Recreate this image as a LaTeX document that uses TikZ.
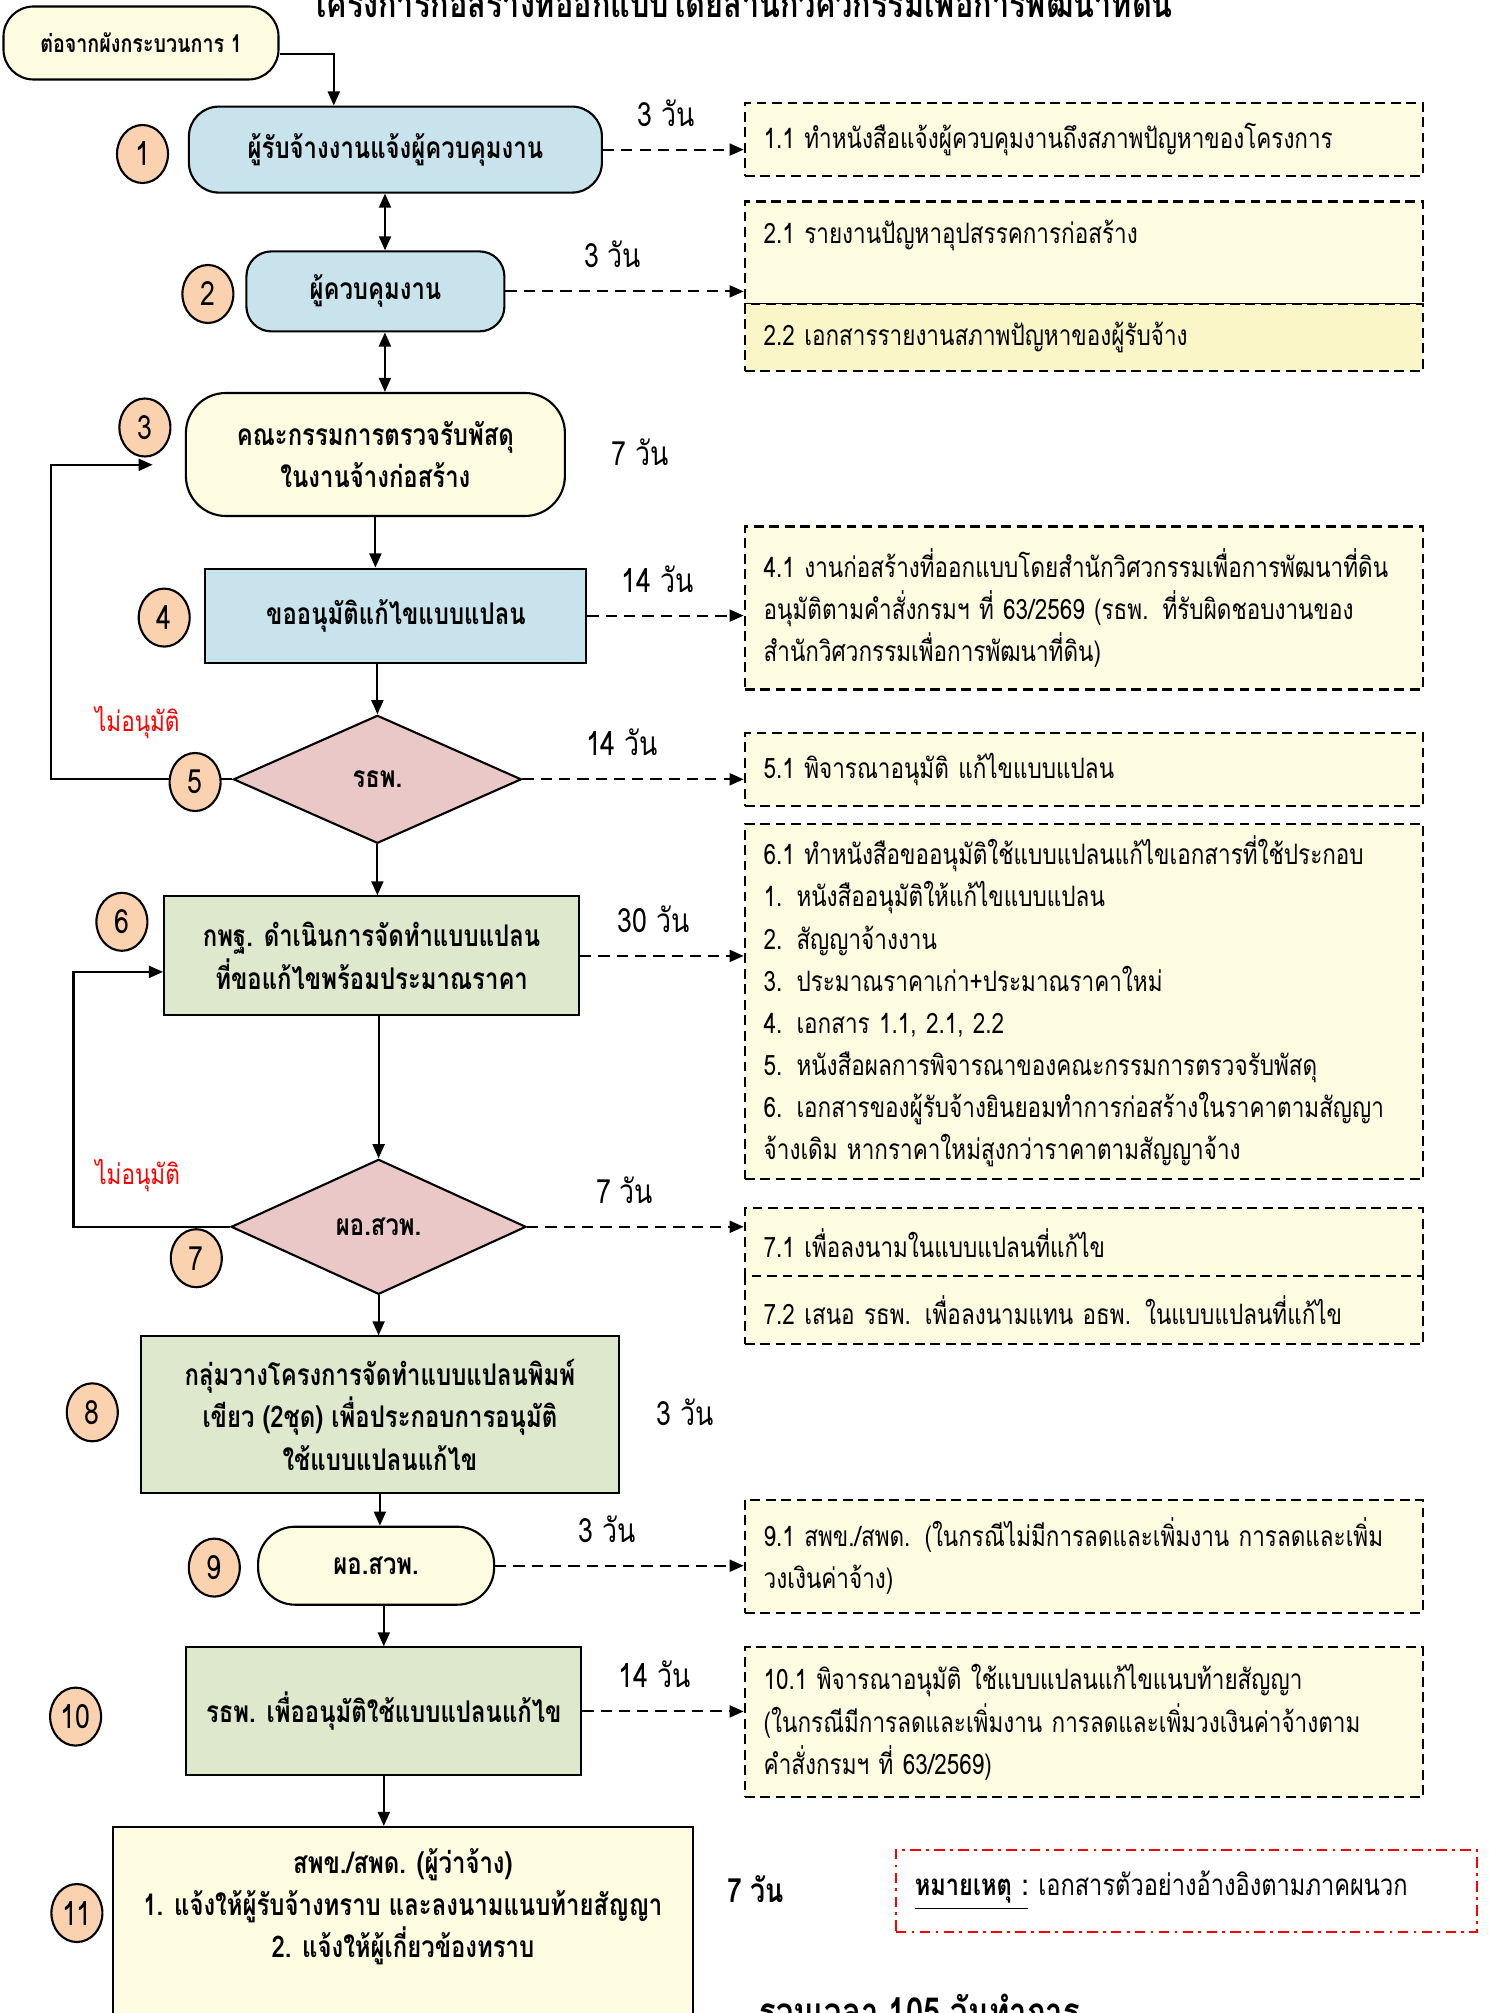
\documentclass[tikz,border=0pt]{standalone}
\usepackage{fontspec}
\setmainfont[Script=Thai, FakeStretch=0.8]{Loma}
\usetikzlibrary{shapes.geometric, arrows.meta, calc}

\definecolor{bluefill}{RGB}{200,227,236}
\definecolor{creamfill}{RGB}{253,251,224}
\definecolor{greenfill}{RGB}{221,232,204}
\definecolor{pinkfill}{RGB}{234,200,200}
\definecolor{peachfill}{RGB}{250,210,175}
\definecolor{yellowfill}{RGB}{250,246,200}

\newcommand{\txtsize}{\fontsize{8pt}{12pt}\selectfont}
\newcommand{\nodesize}{\fontsize{8.5pt}{12pt}\selectfont}
\newcommand{\smalltxt}{\fontsize{7pt}{9pt}\selectfont}
\newcommand{\daysize}{\fontsize{9.5pt}{11pt}\selectfont}
\newcommand{\titlesize}{\fontsize{10.9pt}{12pt}\selectfont}
\newcommand{\totalsize}{\fontsize{11pt}{13pt}\selectfont}

\tikzstyle{roundstep} = [rectangle, rounded corners=0.3cm, draw=black, semithick, text centered, align=center, font=\nodesize\bfseries]
\tikzstyle{process} = [rectangle, draw=black, semithick, text centered, align=center, font=\nodesize\bfseries]
\tikzstyle{decision} = [diamond, shape aspect=2.2, inner sep=0pt, draw=black, semithick, fill=pinkfill, text centered, font=\nodesize\bfseries]
\tikzstyle{badge} = [ellipse, minimum width=0.51cm, minimum height=0.58cm, inner sep=0pt, draw=black, semithick, fill=peachfill, font=\daysize]
\tikzstyle{detail} = [rectangle, draw=black, semithick, dash pattern=on 2.8pt off 1.6pt, fill=creamfill, text width=6.4cm, inner xsep=0.19cm, align=left, font=\txtsize]
\tikzstyle{notebox} = [rectangle, draw=red, semithick, dash pattern=on 3pt off 1.5pt on 0.8pt off 1.5pt, fill=white, text width=5.43cm, inner xsep=0.19cm, minimum height=0.82cm, align=left, font=\fontsize{8.4pt}{12pt}\selectfont]
\tikzstyle{days} = [font=\daysize]
\tikzstyle{arrow} = [semithick, -{Triangle[length=4pt,width=3.4pt]}]
\tikzstyle{dblarrow} = [semithick, {Triangle[length=4pt,width=3.4pt]}-{Triangle[length=4pt,width=3.4pt]}]
\tikzstyle{dasharrow} = [arrow, dash pattern=on 3.2pt off 2pt]

\begin{document}
\begin{tikzpicture}[node distance=1.6cm]
    \useasboundingbox (0,0) rectangle (14.88,-20.13);
    \clip (0,0) rectangle (14.88,-20.13);

    \node (title) [anchor=base, font=\titlesize\bfseries] at (7.415,-0.18) {โครงการก่อสร้างที่ออกแบบโดยสำนักวิศวกรรมเพื่อการพัฒนาที่ดิน};

    \node (start) [roundstep, fill=creamfill, minimum width=2.75cm, minimum height=0.73cm, font=\smalltxt\bfseries] at (1.41,-0.43) {ต่อจากผังกระบวนการ 1};
    \node (n1) [roundstep, fill=bluefill, minimum width=4.13cm, minimum height=0.86cm, below of=start, xshift=2.544cm, yshift=0.534cm] {ผู้รับจ้างงานแจ้งผู้ควบคุมงาน};
    \node (n2) [roundstep, fill=bluefill, rounded corners=0.25cm, minimum width=2.58cm, minimum height=0.8cm, below of=n1, xshift=-0.2cm, yshift=0.182cm] {ผู้ควบคุมงาน};
    \node (n3) [roundstep, fill=creamfill, rounded corners=0.4cm, minimum width=3.79cm, minimum height=1.23cm, below of=n2, yshift=-0.031cm] {คณะกรรมการตรวจรับพัสดุ\\ในงานจ้างก่อสร้าง};
    \node (n4) [process, fill=bluefill, minimum width=3.81cm, minimum height=0.94cm, below of=n3, xshift=0.205cm, yshift=-0.011cm] {ขออนุมัติแก้ไขแบบแปลน};
    \node (d5) [decision, minimum width=2.88cm, minimum height=1.28cm, below of=n4, xshift=-0.185cm, yshift=-0.037cm] {รธพ.};
    \node (n6) [process, fill=greenfill, minimum width=4.15cm, minimum height=1.19cm, below of=d5, xshift=-0.058cm, yshift=-0.166cm] {กพฐ. ดำเนินการจัดทำแบบแปลน\\ที่ขอแก้ไขพร้อมประมาณราคา};
    \node (d7) [decision, minimum width=2.95cm, minimum height=1.35cm, below of=n6, xshift=0.07cm, yshift=-1.109cm] {ผอ.สวพ.};
    \node (n8) [process, fill=greenfill, minimum width=4.78cm, minimum height=1.57cm, below of=d7, xshift=0.013cm, yshift=-0.281cm] {กลุ่มวางโครงการจัดทำแบบแปลนพิมพ์\\เขียว (2ชุด) เพื่อประกอบการอนุมัติ\\ใช้แบบแปลนแก้ไข};
    \node (n9) [roundstep, fill=creamfill, rounded corners=0.37cm, minimum width=2.36cm, minimum height=0.78cm, below of=n8, xshift=-0.038cm, yshift=0.092cm] {ผอ.สวพ.};
    \node (n10) [process, fill=greenfill, minimum width=3.95cm, minimum height=1.28cm, below of=n9, xshift=0.077cm, yshift=0.143cm] {รธพ. เพื่ออนุมัติใช้แบบแปลนแก้ไข};
    \node (n11) [process, fill=creamfill, minimum width=5.8cm, minimum height=2.36cm, below of=n10, xshift=0.191cm, yshift=-0.736cm] {สพข./สพด. (ผู้ว่าจ้าง)\\1. แจ้งให้ผู้รับจ้างทราบ และลงนามแนบท้ายสัญญา\\2. แจ้งให้ผู้เกี่ยวข้องทราบ\\\mbox{}\\\mbox{}};

    % details on the right
    \node (b11) [detail, minimum height=0.73cm] at (10.837,-1.393) {1.1 ทำหนังสือแจ้งผู้ควบคุมงานถึงสภาพปัญหาของโครงการ};
    \node (b21) [detail, minimum height=1.03cm] at (10.837,-2.53) {2.1 รายงานปัญหาอุปสรรคการก่อสร้าง\\\mbox{}};
    \node (b22) [detail, fill=yellowfill, minimum height=0.67cm] at (10.837,-3.377) {2.2 เอกสารรายงานสภาพปัญหาของผู้รับจ้าง};
    \node (b41) [detail, minimum height=1.63cm] at (10.837,-6.08) {4.1 งานก่อสร้างที่ออกแบบโดยสำนักวิศวกรรมเพื่อการพัฒนาที่ดิน\\อนุมัติตามคำสั่งกรมฯ ที่ 63/2569 (รธพ. ที่รับผิดชอบงานของ\\สำนักวิศวกรรมเพื่อการพัฒนาที่ดิน)};
    \node (b51) [detail, minimum height=0.73cm] at (10.837,-7.697) {5.1 พิจารณาอนุมัติ แก้ไขแบบแปลน};
    \node (b61) [detail, minimum height=3.54cm] at (10.837,-10.015) {6.1 ทำหนังสือขออนุมัติใช้แบบแปลนแก้ไขเอกสารที่ใช้ประกอบ\\1. หนังสืออนุมัติให้แก้ไขแบบแปลน\\2. สัญญาจ้างงาน\\3. ประมาณราคาเก่า+ประมาณราคาใหม่\\4. เอกสาร 1.1, 2.1, 2.2\\5. หนังสือผลการพิจารณาของคณะกรรมการตรวจรับพัสดุ\\6. เอกสารของผู้รับจ้างยินยอมทำการก่อสร้างในราคาตามสัญญา\\จ้างเดิม หากราคาใหม่สูงกว่าราคาตามสัญญาจ้าง};
    \node (b71) [detail, minimum height=0.69cm] at (10.837,-12.429) {7.1 เพื่อลงนามในแบบแปลนที่แก้ไข};
    \node (b72) [detail, minimum height=0.68cm] at (10.837,-13.10) {7.2 เสนอ รธพ. เพื่อลงนามแทน อธพ. ในแบบแปลนที่แก้ไข};
    \node (b91) [detail, minimum height=1.13cm] at (10.837,-15.561) {9.1 สพข./สพด. (ในกรณีไม่มีการลดและเพิ่มงาน การลดและเพิ่ม\\วงเงินค่าจ้าง)};
    \node (b101) [detail, minimum height=1.5cm] at (10.837,-17.224) {10.1 พิจารณาอนุมัติ ใช้แบบแปลนแก้ไขแนบท้ายสัญญา\\(ในกรณีมีการลดและเพิ่มงาน การลดและเพิ่มวงเงินค่าจ้างตาม\\คำสั่งกรมฯ ที่ 63/2569)};

    \node (note) [notebox] at (11.863,-18.91) {\textbf{\underline{หมายเหตุ :}} เอกสารตัวอย่างอ้างอิงตามภาคผนวก};
    \node (total) [anchor=base west, font=\totalsize\bfseries] at (7.475,-20.25) {รวมเวลา 105 วันทำการ};

    \node (t3) [days] at ($(n3.east)+(0.745,0.025)$) {7 วัน};
    \node (t8) [days] at ($(n8.east)+(0.655,0.026)$) {3 วัน};
    \node (t11) [days, font=\daysize\bfseries] at ($(n11.east)+(0.617,0.564)$) {7 วัน};

    \node (no5) [font=\txtsize, text=red] at ($(d5.west)+(-0.95,0.565)$) {ไม่อนุมัติ};
    \node (no7) [font=\txtsize, text=red] at ($(d7.west)+(-0.924,0.508)$) {ไม่อนุมัติ};

    \coordinate (start_out) at ($(start.east)+(0,-0.11)$);
    \coordinate (n1_in) at ($(n1.north)+(-0.616,0)$);
    \coordinate (link12) at ($(n1.south)+(-0.104,0)$);
    \coordinate (link23) at ($(n2.south)+(0.095,0)$);
    \coordinate (loop5) at ($(d5.west)+(-1.811,0)$);
    \coordinate (to_n3) at ($(n3.west)+(-0.322,-0.103)$);
    \coordinate (loop7) at ($(d7.west)+(-1.566,0)$);
    \coordinate (to_n6) at ($(n6.west)+(0,-0.16)$);

    \draw [arrow] (start_out) -| (n1_in);
    \draw [dblarrow] (link12) -- (link12 |- n2.north);
    \draw [dblarrow] (link23) -- (link23 |- n3.north);
    \draw [arrow] (n3.south) -- (n3.south |- n4.north);
    \draw [arrow] (d5.north |- n4.south) -- (d5.north);
    \draw [arrow] (d5.south) -- (d5.south |- n6.north);
    \draw [arrow] (d7.north |- n6.south) -- (d7.north);
    \draw [arrow] (d7.south) -- (d7.south |- n8.north);
    \draw [arrow] (n8.south) -- (n8.south |- n9.north);
    \draw [arrow] (n10.north |- n9.south) -- (n10.north);
    \draw [arrow] (n10.south) -- (n10.south |- n11.north);

    \draw [arrow] (d5.west) -- (loop5) |- (to_n3);
    \draw [arrow] (d7.west) -- (loop7) |- (to_n6);

    \draw [dasharrow] (n1.east) -- node[days, anchor=south, pos=0.45, yshift=3pt] {3 วัน} (n1.east -| b11.west);
    \draw [dasharrow] (n2.east) -- node[days, anchor=south, pos=0.45, yshift=3pt] {3 วัน} (n2.east -| b21.west);
    \draw [dasharrow] (n4.east) -- node[days, anchor=south, pos=0.45, yshift=3pt] {14 วัน} (n4.east -| b41.west);
    \draw [dasharrow] (d5.east) -- node[days, anchor=south, pos=0.45, yshift=3pt] {14 วัน} (d5.east -| b51.west);
    \draw [dasharrow] (n6.east) -- node[days, anchor=south, pos=0.45, yshift=3pt] {30 วัน} (n6.east -| b61.west);
    \draw [dasharrow] (d7.east) -- node[days, anchor=south, pos=0.45, yshift=3pt] {7 วัน} (d7.east -| b71.west);
    \draw [dasharrow] (n9.east) -- node[days, anchor=south, pos=0.45, yshift=3pt] {3 วัน} (n9.east -| b91.west);
    \draw [dasharrow] (n10.east) -- node[days, anchor=south, pos=0.45, yshift=3pt] {14 วัน} (n10.east -| b101.west);

    \node (c1) [badge, left of=n1, xshift=-0.929cm, yshift=-0.044cm] {1};
    \node (c2) [badge, left of=n2, xshift=-0.075cm, yshift=-0.026cm] {2};
    \node (c3) [badge, left of=n3, xshift=-0.705cm, yshift=0.27cm] {3};
    \node (c4) [badge, left of=n4, xshift=-0.717cm, yshift=-0.02cm] {4};
    \node (c5) [badge, left of=d5, xshift=-0.223cm, yshift=-0.027cm] {5};
    \node (c6) [badge, left of=n6, xshift=-0.897cm, yshift=0.341cm] {6};
    \node (c7) [badge, left of=d7, xshift=-0.223cm, yshift=-0.314cm] {7};
    \node (c8) [badge, left of=n8, xshift=-1.276cm, yshift=0.026cm] {8};
    \node (c9) [badge, left of=n9, xshift=-0.018cm, yshift=-0.019cm] {9};
    \node (c10) [badge, left of=n10, xshift=-1.482cm, yshift=-0.052cm] {10};
    \node (c11) [badge, left of=n11, xshift=-1.66cm, yshift=0.32cm] {11};

\end{tikzpicture}
\end{document}
